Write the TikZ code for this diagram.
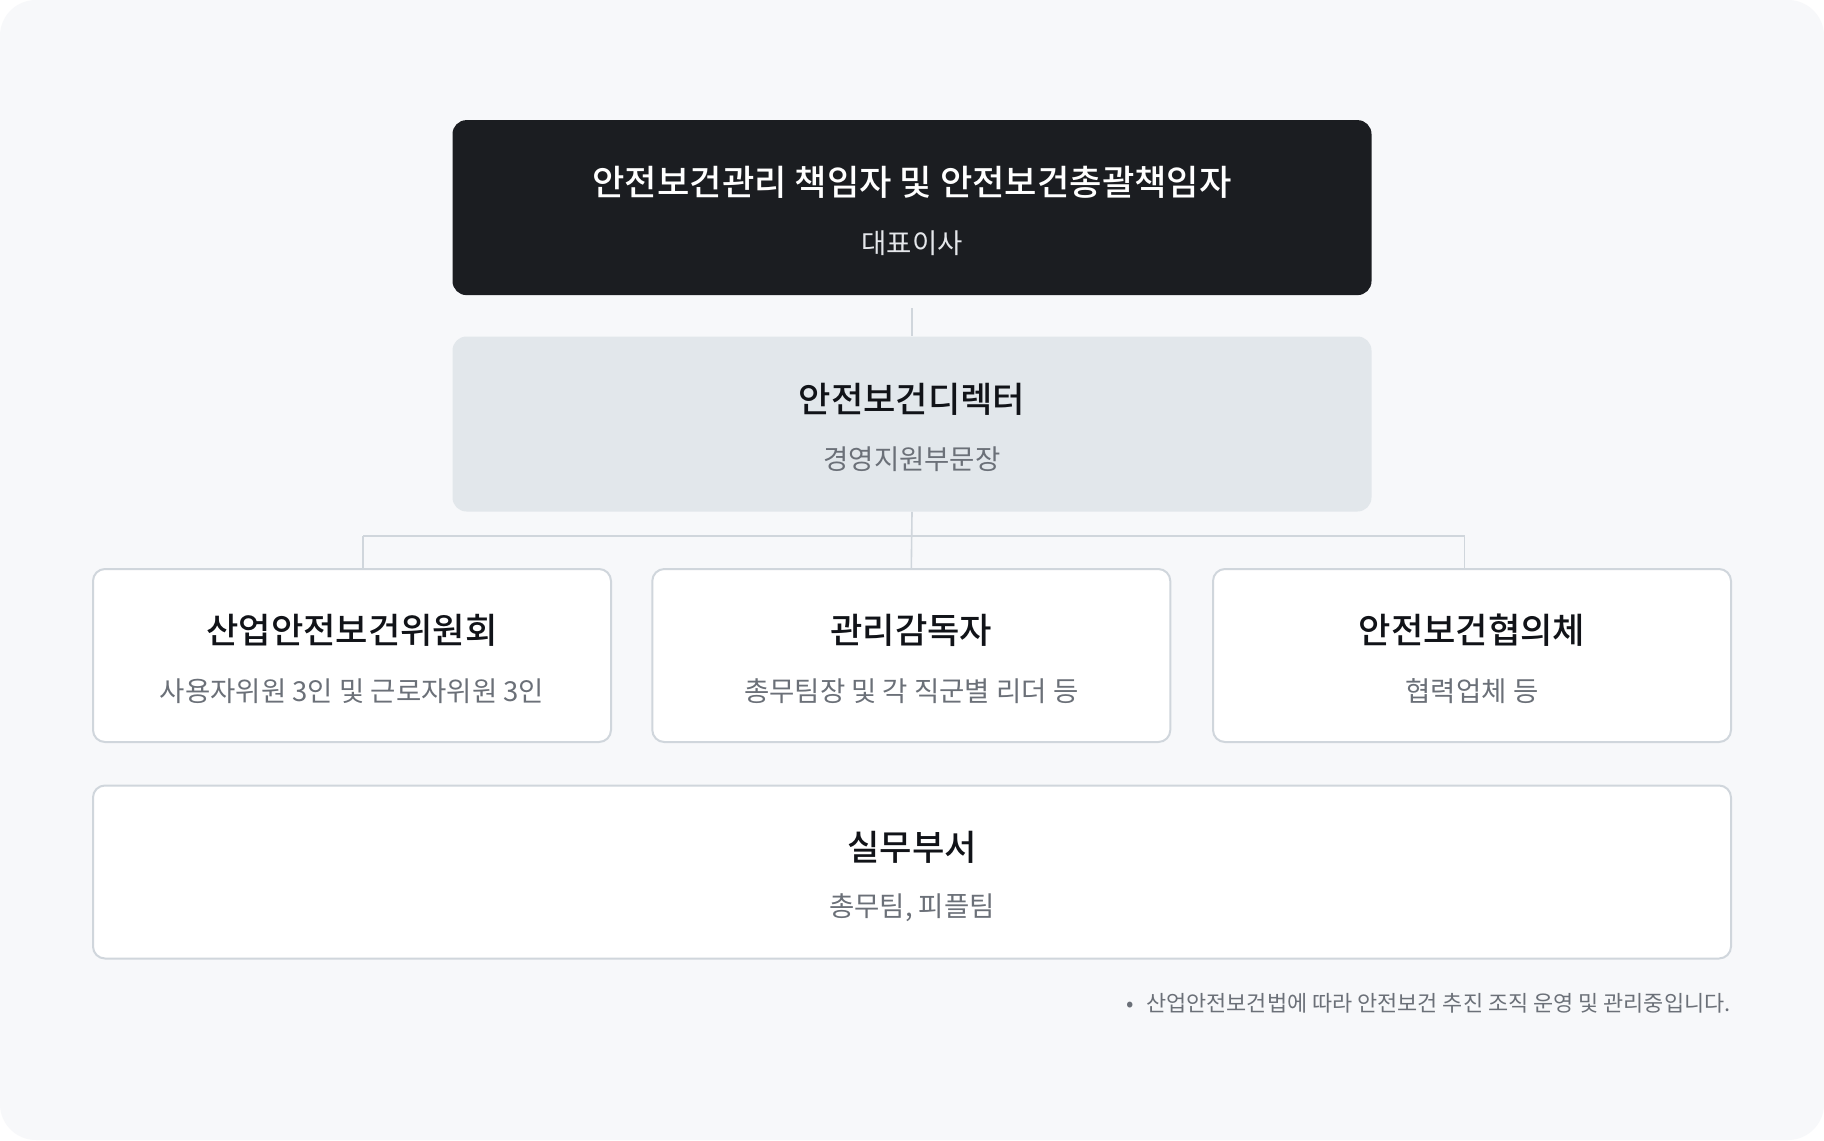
\documentclass[tikz,border=0pt]{standalone}
\usepackage{fontspec}
\setmainfont{Noto Sans CJK KR}
\newfontfamily\medfont{Noto Sans CJK KR Medium}
\usepackage{tikz}
\usetikzlibrary{calc}
\usetikzlibrary{positioning}
\definecolor{pagebg}{HTML}{F7F8FA}
\definecolor{headfill}{HTML}{1B1D21}
\definecolor{dirfill}{HTML}{E2E7EB}
\definecolor{edge}{HTML}{D0D6DC}
\definecolor{ink}{HTML}{111318}
\definecolor{subink}{HTML}{6B7078}
\definecolor{headsub}{HTML}{E4E6EA}
\tikzset{
  orgbox/.style={rounded corners=6pt, minimum width=259pt, minimum height=86.5pt, inner sep=0pt},
  plainbox/.style={orgbox, draw=edge, line width=1pt, fill=white},
  wide/.style={minimum width=459.5pt, minimum height=87.5pt, rounded corners=7pt},
  ttl/.style={font=\medfont\fontsize{17.6}{21}\selectfont, text=ink, inner sep=0pt},
  sub/.style={font=\fontsize{13.75}{17}\selectfont, text=subink, inner sep=0pt},
  conn/.style={draw=edge, line width=.8pt},
}

\begin{document}
\begin{tikzpicture}[x=.5pt, y=-.5pt]
\useasboundingbox (0,0) rectangle (1824,1140);
\fill[white] (0,0) rectangle (1824,1140);
\fill[pagebg, rounded corners=18pt] (0,0) rectangle (1824,1140);
% top level
\node[orgbox, wide, fill=headfill] (head) at (912,207.6) {};
\node[ttl, text=white] (headT) at (912,182.6) {안전보건관리 책임자 및 안전보건총괄책임자};
\node[sub, text=headsub] (headS) at (912,243) {대표이사};
% director
\node[orgbox, wide, fill=dirfill] (dir) at (912,424) {};
\node[ttl] (dirT) at (912,399) {안전보건디렉터};
\node[sub] (dirS) at (912,459.5) {경영지원부문장};
% middle row
\foreach \nm/\x/\t/\s in {com/352/산업안전보건위원회/사용자위원 3인 및 근로자위원 3인,
                          sup/911.3/관리감독자/총무팀장 및 각 직군별 리더 등,
                          coop/1472/안전보건협의체/협력업체 등} {
  \node[plainbox] (\nm) at (\x,655.5) {};
  \node[ttl] (\nm T) at (\x,630.5) {\t};
  \node[sub] (\nm S) at (\x,691) {\s};
}
% bottom
\node[plainbox, minimum width=819pt] (work) at (912,872) {};
\node[ttl] (workT) at (912,847) {실무부서};
\node[sub] (workS) at (912,907.5) {총무팀, 피플팀};
% connectors
\coordinate (headgap) at (912,308);
\coordinate (busL) at (363,536);
\coordinate (busR) at (1464.6,536);
\draw[conn] (headgap) -- (dir.north);
\draw[conn] (dir.south) -- (sup.north);
\draw[conn] (busL) -- (busR);
\draw[conn] (busL) -- (busL |- com.north);
\draw[conn] (busR) -- (busR |- coop.north);
% note
\node[anchor=east, inner sep=0pt, text=subink, font=\fontsize{10.95}{13}\selectfont] (note) at (1731,1003)
  {•\hspace{6pt}산업안전보건법에 따라 안전보건 추진 조직 운영 및 관리중입니다.};
\end{tikzpicture}
\end{document}
